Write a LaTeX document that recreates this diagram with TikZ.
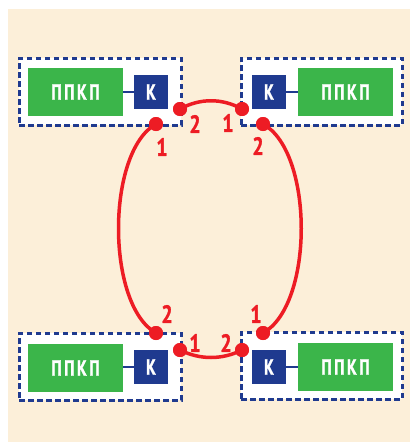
\documentclass[tikz,border=0pt]{standalone}
\usepackage{fontspec}
\setmainfont{PT Sans}
\newfontfamily\condf[FakeStretch=0.72,LetterSpace=12,FakeBold=1.2]{PT Sans Bold}
\newfontfamily\numf[FakeStretch=0.8,FakeBold=1.2]{PT Sans Bold}
\definecolor{beige}{HTML}{FCEFD9}
\definecolor{kblue}{HTML}{1F3A8F}
\definecolor{pgreen}{HTML}{3BB54A}
\definecolor{lred}{HTML}{ED1C24}
\begin{document}
\begin{tikzpicture}[x=1pt,y=-1pt,
  frame/.style={draw=kblue, line width=3pt, dash pattern=on 5.5pt off 3.5pt, fill=white, inner sep=0pt},
  ppkp/.style={fill=pgreen, text=white, font=\condf\fontsize{22}{22}\selectfont, minimum width=95pt, minimum height=48pt, inner sep=0pt},
  kbox/.style={fill=kblue, text=white, font=\condf\fontsize{22}{22}\selectfont, minimum width=34pt, minimum height=34pt, inner sep=0pt},
  link/.style={draw=kblue, line width=2.4pt},
  dot/.style={circle, fill=lred, minimum size=14pt, inner sep=0pt},
  num/.style={text=lred, inner sep=0pt, font=\numf\fontsize{25}{25}\selectfont},
  wire/.style={draw=lred, line width=3.5pt}]
\useasboundingbox (0,0) rectangle (410,442);
\fill[beige] (8,9) rectangle (410,442);
% frames
\node[frame, minimum width=162pt, minimum height=67pt] (f1) at (100,91.5) {};
\node[frame, minimum width=161pt, minimum height=67pt] (f2) at (321.5,91.5) {};
\node[frame, minimum width=162pt, minimum height=67pt] (f3) at (100,366.5) {};
\node[frame, minimum width=161pt, minimum height=67pt] (f4) at (321.5,365.5) {};
% devices
\node[ppkp] (g1) at (75.5,92) {ППКП};
\node[kbox] (k1) at (151,92) {К};
\node[kbox] (k2) at (269,92) {К};
\node[ppkp] (g2) at (345.5,92) {ППКП};
\node[ppkp] (g3) at (75.5,368) {ППКП};
\node[kbox] (k3) at (151,367) {К};
\node[kbox] (k4) at (269,367) {К};
\node[ppkp] (g4) at (345.5,367) {ППКП};
\draw[link] (g1.east) -- (k1.west);
\draw[link] (k2.east) -- (g2.west);
\draw[link] (g3.east |- k3.center) -- (k3.west);
\draw[link] (k4.east) -- (g4.west |- k4.center);
% terminal dots
\node[dot] (a2) at (180,109) {};
\node[dot] (a1) at (156,124) {};
\node[dot] (b1) at (242,109) {};
\node[dot] (b2) at (263,124) {};
\node[dot] (c2) at (156,333) {};
\node[dot] (c1) at (180,350) {};
\node[dot] (d1) at (263,333) {};
\node[dot] (d2) at (242,350) {};
% wires
\draw[wire] (a2.center) .. controls (200,98) and (222,98) .. (b1.center);
\draw[wire] (a1.center) .. controls (106,152) and (106,305) .. (c2.center);
\draw[wire] (b2.center) .. controls (314,152) and (314,305) .. (d1.center);
\draw[wire] (c1.center) .. controls (200,360) and (222,360) .. (d2.center);
% redraw dots on top
\foreach \n in {a1,a2,b1,b2,c1,c2,d1,d2} \fill[lred] (\n) circle (7pt);
% labels
\node[num] (la2) at (195,124) {2};
\node[num] (la1) at (162,147) {1};
\node[num] (lb1) at (228,123) {1};
\node[num] (lb2) at (258,146) {2};
\node[num] (lc2) at (167,314) {2};
\node[num] (ld1) at (256,314) {1};
\node[num] (lc1) at (195,343) {1};
\node[num] (ld2) at (226,343) {2};
\end{tikzpicture}
\end{document}
